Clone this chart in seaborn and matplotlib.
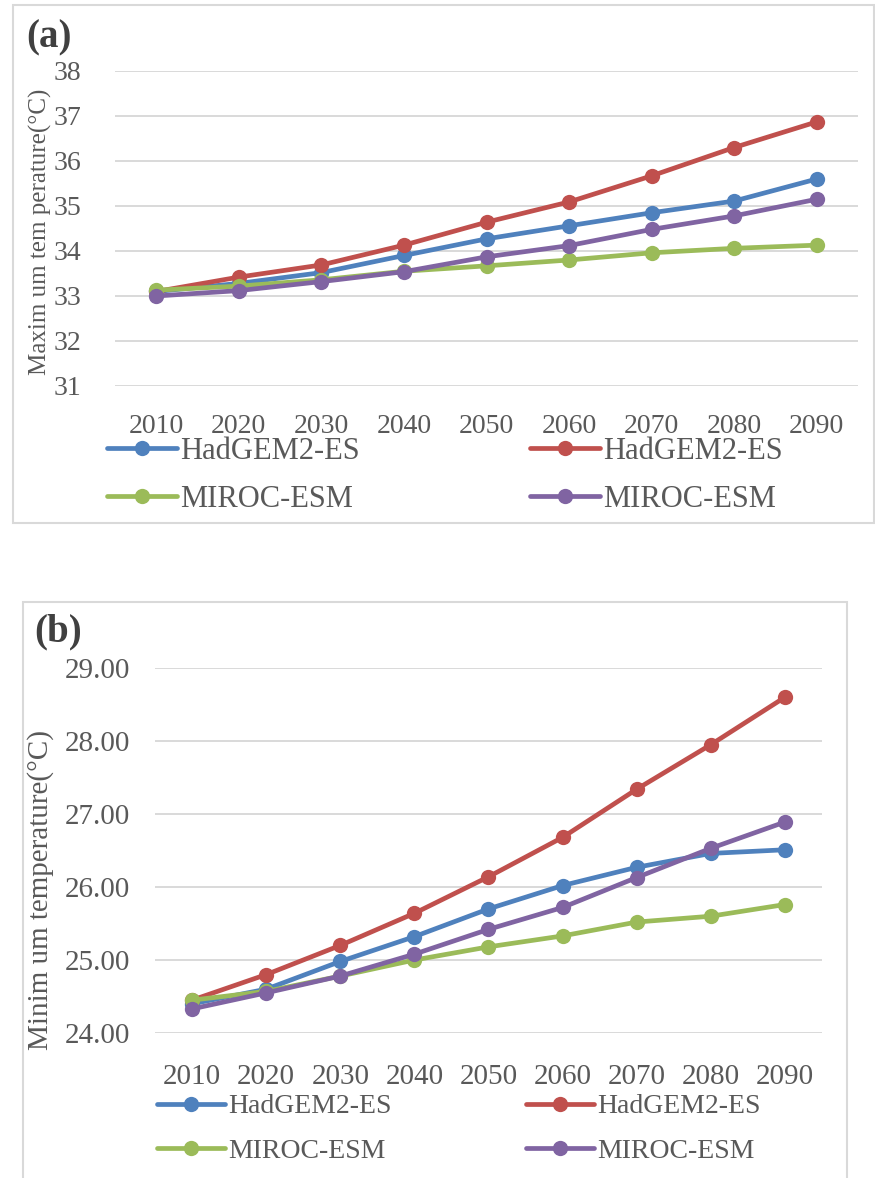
#!/usr/bin/env python3

import pandas as pd
import seaborn as sns
import matplotlib.pyplot as plt
from matplotlib.patches import Rectangle

# decades on the category axis
years = ["2010", "2020", "2030", "2040", "2050", "2060", "2070", "2080", "2090"]

# (a) maximum temperature
tmax_had_a = [33.10, 33.28, 33.52, 33.90, 34.27, 34.56, 34.85, 35.11, 35.60]
tmax_had_b = [33.10, 33.42, 33.69, 34.13, 34.64, 35.09, 35.67, 36.30, 36.87]
tmax_miroc_a = [33.13, 33.22, 33.36, 33.55, 33.67, 33.80, 33.96, 34.06, 34.13]
tmax_miroc_b = [33.00, 33.12, 33.32, 33.54, 33.87, 34.12, 34.48, 34.78, 35.15]

# (b) minimum temperature
tmin_had_a = [24.40, 24.60, 24.98, 25.32, 25.70, 26.02, 26.27, 26.46, 26.51]
tmin_had_b = [24.45, 24.80, 25.20, 25.64, 26.14, 26.68, 27.34, 27.95, 28.60]
tmin_miroc_a = [24.45, 24.57, 24.78, 25.00, 25.18, 25.33, 25.52, 25.60, 25.76]
tmin_miroc_b = [24.33, 24.55, 24.78, 25.08, 25.42, 25.72, 26.13, 26.53, 26.89]

labels = ["HadGEM2-ES", "HadGEM2-ES", "MIROC-ESM", "MIROC-ESM"]
colors = ["#4F81BD", "#C0504D", "#9BBB59", "#8064A2"]
TXT = "#595959"
W, H = 875, 1178


def draw_panel(fig, rect, series, ylim, yfmt, ylabel, tag, fs, lab_fs, leg_fs, leg_xy,
               colsp, hlen, lsp, ypad, xpad, ylab_xy, tag_xy):
    l, t, r, b = rect
    ax = fig.add_axes([l / W, 1 - b / H, (r - l) / W, (b - t) / H])
    x = list(range(len(years)))
    for vals, lab, c in zip(series, labels, colors):
        df = pd.DataFrame({"x": x, "y": vals})
        sns.lineplot(data=df, x="x", y="y", ax=ax, color=c, linewidth=3.4,
                     marker="o", markersize=11, markeredgewidth=0, label=lab)
    ax.set_xlim(-0.5, len(years) - 0.5)
    ax.set_ylim(*ylim)
    ax.set_yticks(range(ylim[0], ylim[1] + 1))
    ax.set_yticklabels([yfmt.format(v) for v in range(ylim[0], ylim[1] + 1)])
    ax.set_xticks(x)
    ax.set_xticklabels(years)
    ax.grid(axis="y", color="#D9D9D9", linewidth=1.4)
    ax.grid(axis="x", visible=False)
    ax.set_axisbelow(True)
    for s in ax.spines.values():
        s.set_visible(False)
    ax.tick_params(axis="y", length=0, pad=ypad, labelsize=fs, labelcolor=TXT)
    ax.tick_params(axis="x", length=0, pad=xpad, labelsize=fs, labelcolor=TXT)
    ax.set_xlabel("")
    ax.set_ylabel(ylabel, fontsize=lab_fs, color=TXT)
    ax.yaxis.set_label_coords((ylab_xy[0] - l) / (r - l), (b - ylab_xy[1]) / (b - t))

    h, lb = ax.get_legend_handles_labels()
    order = [0, 2, 1, 3]
    ax.legend([h[i] for i in order], [lb[i] for i in order], ncol=2, frameon=False,
              loc="upper left", bbox_to_anchor=(leg_xy[0] / W, 1 - leg_xy[1] / H),
              bbox_transform=fig.transFigure, borderpad=0, borderaxespad=0,
              handlelength=hlen, handletextpad=0.1, columnspacing=colsp,
              labelspacing=lsp, prop={"size": leg_fs}, labelcolor=TXT)
    fig.text(tag_xy[0] / W, 1 - tag_xy[1] / H, tag, fontsize=28, fontweight="bold",
             color="#404040", ha="left", va="center")
    return ax


def main():
    sns.set_style("white")
    plt.rcParams["font.family"] = ["Liberation Serif", "DejaVu Serif"]

    fig = plt.figure(figsize=(W / 100, H / 100), dpi=100)

    # panel frames
    fig.patches.append(Rectangle((13 / W, 1 - 523 / H), (874 - 13) / W, (523 - 5) / H,
                                 transform=fig.transFigure, fill=False,
                                 edgecolor="#D9D9D9", linewidth=1.5))
    fig.patches.append(Rectangle((23 / W, 1 - 1190 / H), (847 - 23) / W, (1190 - 602) / H,
                                 transform=fig.transFigure, fill=False,
                                 edgecolor="#D9D9D9", linewidth=1.5))

    draw_panel(fig, (115, 71, 858, 386),
               [tmax_had_a, tmax_had_b, tmax_miroc_a, tmax_miroc_b],
               (31, 38), "{:d}", "Maxim um tem perature(°C)", "(a)",
               20, 18, 22, (107, 437), 5.55, 2.3, 0.61, 24, 20, (52, 232), (26, 38))
    draw_panel(fig, (155, 668, 822, 1033),
               [tmin_had_a, tmin_had_b, tmin_miroc_a, tmin_miroc_b],
               (24, 29), "{:d}.00", "Minim um temperature(°C)", "(b)",
               21, 21, 20, (157, 1094), 4.85, 2.45, 0.69, 18, 22, (54, 890), (34, 632))

    fig.savefig("out.png", dpi=100)


if __name__ == '__main__':
    main()
